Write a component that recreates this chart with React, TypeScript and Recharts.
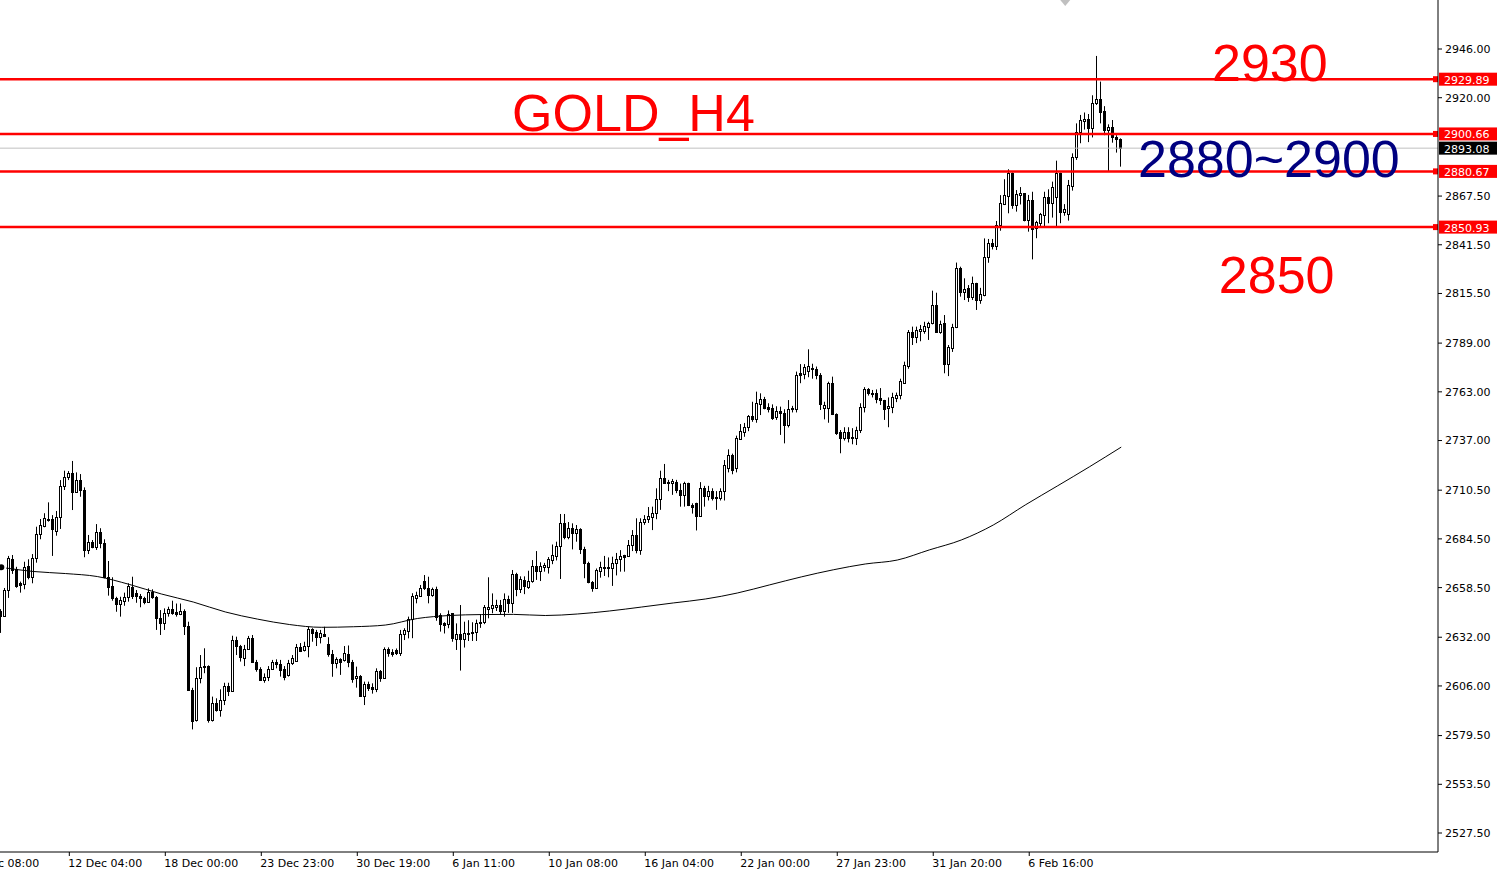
import React from 'react';
import { ComposedChart, Bar, Line, XAxis, YAxis, ReferenceLine, ReferenceDot } from 'recharts';

const opens = [
  2646.0, 2643.5, 2657.2, 2673.8, 2668.4, 2660.8, 2660.3, 2670.0, 2664.0, 2674.1,
  2687.0, 2691.6, 2695.3, 2695.1, 2688.9, 2696.0, 2712.7, 2717.4, 2719.5, 2709.7,
  2715.9, 2710.6, 2678.6, 2683.0, 2680.3, 2688.0, 2682.1, 2664.3, 2659.4, 2652.8,
  2649.6, 2651.5, 2653.6, 2659.0, 2655.5, 2654.2, 2653.1, 2651.0, 2656.0, 2653.3,
  2642.4, 2639.8, 2644.8, 2647.0, 2645.6, 2644.4, 2646.2, 2638.0, 2603.8, 2587.8,
  2610.1, 2616.8, 2616.6, 2587.8, 2597.0, 2593.2, 2598.5, 2606.0, 2603.4, 2630.5,
  2627.3, 2620.8, 2625.7, 2631.4, 2619.0, 2615.0, 2609.2, 2610.6, 2615.0, 2618.6,
  2617.7, 2615.0, 2611.9, 2618.1, 2619.5, 2626.6, 2625.2, 2627.5, 2636.4, 2634.9,
  2631.9, 2633.7, 2628.4, 2623.1, 2618.1, 2620.4, 2619.8, 2622.9, 2619.0, 2610.1,
  2611.3, 2600.8, 2606.9, 2605.5, 2604.2, 2614.0, 2610.4, 2625.7, 2624.3, 2625.2,
  2623.4, 2633.7, 2635.5, 2641.6, 2653.1, 2654.2, 2662.0, 2658.1, 2654.6, 2657.8,
  2643.9, 2639.4, 2639.1, 2644.8, 2630.9, 2633.7, 2630.9, 2633.9, 2634.4, 2635.0,
  2639.4, 2640.0, 2647.1, 2647.4, 2648.3, 2649.2, 2646.2, 2652.4, 2650.2, 2665.8,
  2657.8, 2662.6, 2659.0, 2662.0, 2670.0, 2667.6, 2669.6, 2669.6, 2673.4, 2675.5,
  2680.9, 2692.8, 2685.3, 2690.2, 2687.8, 2689.8, 2679.1, 2671.5, 2661.3, 2658.4,
  2667.6, 2668.8, 2669.7, 2668.8, 2671.5, 2673.6, 2675.9, 2675.4, 2681.0, 2686.6,
  2678.6, 2693.4, 2695.1, 2696.3, 2698.2, 2705.6, 2716.8, 2715.0, 2714.2, 2715.0,
  2710.6, 2707.9, 2714.5, 2702.6, 2703.5, 2696.9, 2711.5, 2707.4, 2710.2, 2706.9,
  2706.2, 2710.2, 2722.2, 2729.3, 2722.2, 2737.8, 2741.7, 2744.1, 2750.1, 2748.3,
  2756.5, 2759.0, 2755.1, 2754.2, 2749.4, 2752.8, 2751.9, 2745.3, 2754.2, 2753.8,
  2772.9, 2772.5, 2774.0, 2775.9, 2775.0, 2772.0, 2754.2, 2754.2, 2767.9, 2751.2,
  2741.7, 2738.5, 2741.4, 2738.7, 2738.5, 2742.6, 2754.7, 2764.3, 2762.6, 2762.2,
  2759.5, 2758.6, 2754.2, 2754.7, 2759.5, 2761.3, 2767.9, 2776.8, 2795.1, 2792.4,
  2795.6, 2795.6, 2797.8, 2799.6, 2809.4, 2795.1, 2799.6, 2777.8, 2786.2, 2797.4,
  2829.3, 2816.4, 2818.3, 2813.5, 2820.9, 2812.0, 2814.7, 2835.1, 2842.3, 2840.8,
  2852.1, 2863.3, 2867.7, 2879.6, 2862.7, 2868.1, 2869.0, 2854.7, 2865.4, 2850.3,
  2853.3, 2857.4, 2867.1, 2863.6, 2867.1, 2879.6, 2859.2, 2857.9, 2873.0, 2888.2,
  2901.9, 2907.6, 2908.5, 2903.6, 2917.0, 2919.2, 2912.9, 2902.8, 2904.2, 2899.2,
  2897.9,
];

const highs = [
  2647.0, 2658.3, 2675.4, 2675.9, 2669.6, 2661.7, 2672.3, 2673.6, 2676.4, 2691.0,
  2695.1, 2698.2, 2704.0, 2697.2, 2699.4, 2715.9, 2720.9, 2720.7, 2726.1, 2720.0,
  2719.1, 2712.0, 2686.6, 2683.9, 2692.4, 2690.2, 2684.3, 2672.7, 2664.0, 2653.6,
  2653.6, 2655.8, 2660.8, 2664.3, 2657.2, 2655.1, 2653.6, 2658.1, 2657.6, 2654.0,
  2646.5, 2647.4, 2648.3, 2651.5, 2650.0, 2650.0, 2646.9, 2640.3, 2605.0, 2616.0,
  2622.5, 2626.1, 2617.0, 2600.3, 2599.4, 2604.2, 2607.7, 2607.7, 2632.8, 2632.3,
  2627.9, 2627.9, 2632.7, 2633.2, 2619.9, 2616.0, 2612.7, 2616.6, 2619.9, 2620.2,
  2619.9, 2616.6, 2619.9, 2622.5, 2628.4, 2628.9, 2629.6, 2637.6, 2636.8, 2635.9,
  2635.9, 2637.6, 2632.0, 2625.2, 2621.3, 2620.8, 2627.3, 2627.6, 2619.9, 2616.3,
  2611.8, 2608.3, 2608.3, 2607.4, 2615.4, 2614.5, 2626.6, 2626.6, 2625.6, 2626.0,
  2635.9, 2636.8, 2643.0, 2655.5, 2656.3, 2659.9, 2665.2, 2664.3, 2658.5, 2659.0,
  2644.8, 2640.0, 2646.3, 2644.8, 2639.4, 2649.2, 2640.3, 2641.1, 2640.0, 2641.4,
  2644.4, 2649.2, 2664.0, 2655.4, 2652.0, 2651.9, 2655.4, 2654.2, 2667.9, 2666.4,
  2664.5, 2664.5, 2667.5, 2673.2, 2678.0, 2672.0, 2671.7, 2674.8, 2681.5, 2683.0,
  2697.8, 2697.8, 2693.5, 2692.8, 2691.9, 2690.2, 2680.3, 2672.3, 2662.0, 2668.7,
  2672.3, 2675.4, 2674.6, 2675.0, 2677.0, 2678.5, 2676.0, 2683.9, 2689.2, 2695.5,
  2695.5, 2697.2, 2701.5, 2701.7, 2711.5, 2720.9, 2724.5, 2716.0, 2716.5, 2716.0,
  2714.0, 2715.0, 2714.5, 2703.5, 2703.8, 2714.8, 2712.8, 2712.8, 2711.5, 2710.0,
  2711.5, 2726.6, 2732.3, 2730.0, 2739.6, 2745.8, 2746.4, 2750.6, 2757.7, 2763.1,
  2762.2, 2760.3, 2756.9, 2756.3, 2755.3, 2755.1, 2753.7, 2758.6, 2755.5, 2773.8,
  2777.8, 2777.8, 2785.7, 2778.0, 2776.5, 2773.0, 2757.7, 2768.4, 2771.1, 2751.5,
  2742.6, 2744.1, 2744.1, 2743.6, 2744.4, 2756.9, 2765.5, 2765.0, 2764.0, 2764.3,
  2765.0, 2758.7, 2760.0, 2762.5, 2762.6, 2770.0, 2779.1, 2796.0, 2797.8, 2797.8,
  2798.7, 2800.4, 2800.4, 2817.0, 2815.9, 2801.0, 2804.0, 2788.0, 2799.3, 2832.0,
  2829.8, 2823.6, 2820.0, 2824.5, 2821.2, 2818.5, 2844.9, 2844.6, 2844.6, 2854.2,
  2868.0, 2876.5, 2881.8, 2880.1, 2870.7, 2872.3, 2869.0, 2868.1, 2869.8, 2854.3,
  2858.5, 2869.8, 2871.1, 2875.2, 2886.4, 2880.0, 2863.2, 2876.1, 2890.3, 2906.3,
  2910.8, 2912.1, 2911.3, 2921.3, 2942.3, 2928.6, 2915.5, 2905.8, 2908.1, 2900.0,
  2898.3,
];

const lows = [
  2634.3, 2643.0, 2653.0, 2665.8, 2658.4, 2655.8, 2657.6, 2662.9, 2660.8, 2671.8,
  2684.3, 2690.7, 2693.7, 2675.4, 2686.2, 2689.8, 2710.6, 2715.9, 2699.9, 2709.2,
  2707.0, 2674.7, 2676.4, 2679.5, 2678.6, 2679.5, 2663.5, 2654.2, 2651.5, 2645.6,
  2643.0, 2648.8, 2651.0, 2652.4, 2650.4, 2648.0, 2649.6, 2650.5, 2652.5, 2635.9,
  2633.2, 2635.9, 2643.0, 2644.0, 2643.0, 2643.8, 2633.2, 2603.8, 2582.8, 2587.0,
  2607.4, 2612.8, 2586.4, 2587.0, 2592.3, 2589.6, 2595.8, 2600.6, 2603.0, 2622.5,
  2619.0, 2616.6, 2625.2, 2618.4, 2613.6, 2608.8, 2607.7, 2608.6, 2614.5, 2615.4,
  2611.0, 2609.0, 2611.0, 2617.2, 2620.0, 2624.1, 2624.4, 2621.3, 2629.6, 2627.3,
  2628.7, 2632.5, 2621.6, 2610.9, 2615.4, 2611.9, 2619.0, 2616.0, 2607.7, 2605.1,
  2600.3, 2595.8, 2603.3, 2601.9, 2602.7, 2608.2, 2609.9, 2621.6, 2621.6, 2622.5,
  2622.0, 2630.5, 2631.4, 2631.5, 2650.1, 2653.6, 2657.2, 2650.1, 2653.6, 2640.8,
  2635.0, 2634.0, 2636.8, 2629.6, 2625.2, 2614.2, 2626.5, 2630.0, 2630.0, 2630.0,
  2637.0, 2639.0, 2642.1, 2644.8, 2646.0, 2644.0, 2643.0, 2645.0, 2645.0, 2653.9,
  2655.6, 2655.0, 2657.8, 2661.1, 2662.6, 2662.0, 2667.0, 2666.0, 2671.0, 2673.0,
  2663.1, 2684.3, 2684.3, 2678.9, 2683.0, 2676.4, 2663.5, 2660.8, 2656.3, 2657.8,
  2663.8, 2664.7, 2664.0, 2659.4, 2665.0, 2667.0, 2667.0, 2675.0, 2678.0, 2676.8,
  2676.0, 2692.0, 2693.0, 2689.2, 2695.0, 2700.0, 2714.2, 2710.0, 2708.0, 2708.9,
  2701.7, 2701.7, 2702.0, 2698.0, 2689.0, 2696.5, 2701.7, 2705.0, 2705.0, 2700.0,
  2705.0, 2705.0, 2720.0, 2719.0, 2720.0, 2737.3, 2739.0, 2742.0, 2747.0, 2746.5,
  2750.6, 2753.7, 2752.0, 2748.0, 2748.0, 2740.0, 2735.5, 2744.0, 2752.0, 2752.0,
  2767.6, 2769.7, 2770.8, 2770.0, 2769.7, 2753.3, 2748.3, 2746.5, 2750.6, 2740.0,
  2730.2, 2737.0, 2736.0, 2735.0, 2734.6, 2741.0, 2752.0, 2761.0, 2760.0, 2756.9,
  2756.0, 2748.0, 2744.1, 2751.6, 2757.5, 2759.0, 2767.2, 2775.3, 2788.0, 2789.0,
  2790.0, 2794.0, 2790.7, 2799.0, 2794.6, 2794.0, 2772.9, 2771.4, 2784.3, 2797.0,
  2813.8, 2812.0, 2811.0, 2812.0, 2806.7, 2810.0, 2814.0, 2831.9, 2839.0, 2838.7,
  2849.0, 2862.7, 2858.3, 2860.7, 2859.2, 2863.0, 2854.0, 2848.5, 2833.7, 2845.0,
  2851.0, 2851.0, 2853.0, 2856.0, 2851.5, 2853.0, 2857.0, 2854.4, 2870.4, 2886.8,
  2895.7, 2903.0, 2896.3, 2898.8, 2916.1, 2906.3, 2900.0, 2880.9, 2896.0, 2890.7,
  2883.2,
];

const closes = [
  2643.5, 2657.2, 2674.3, 2667.9, 2659.5, 2659.9, 2669.7, 2664.0, 2674.1, 2687.1,
  2691.9, 2695.5, 2694.6, 2689.6, 2696.0, 2712.7, 2717.4, 2719.5, 2709.7, 2715.9,
  2710.6, 2678.6, 2682.7, 2680.3, 2688.0, 2682.1, 2664.3, 2659.0, 2652.8, 2649.6,
  2651.9, 2653.6, 2659.4, 2654.2, 2654.2, 2652.8, 2651.0, 2656.0, 2653.6, 2642.1,
  2639.8, 2644.8, 2647.0, 2644.8, 2644.4, 2646.2, 2638.0, 2603.8, 2587.4, 2610.1,
  2616.0, 2616.0, 2587.8, 2596.7, 2593.2, 2598.5, 2606.0, 2603.4, 2630.5, 2627.3,
  2621.3, 2625.7, 2631.4, 2619.0, 2615.0, 2609.2, 2610.9, 2615.0, 2618.6, 2617.7,
  2614.5, 2610.9, 2618.1, 2621.1, 2626.6, 2624.8, 2627.5, 2636.4, 2634.4, 2631.9,
  2634.1, 2632.7, 2622.9, 2618.1, 2620.4, 2618.6, 2623.4, 2619.0, 2609.7, 2611.5,
  2600.6, 2606.9, 2605.1, 2604.2, 2614.0, 2610.4, 2625.7, 2623.4, 2622.9, 2623.4,
  2633.7, 2635.9, 2641.6, 2654.2, 2654.6, 2658.1, 2658.1, 2654.6, 2657.6, 2643.0,
  2638.9, 2638.5, 2644.3, 2631.4, 2633.7, 2630.9, 2634.4, 2634.4, 2635.0, 2639.8,
  2640.3, 2648.0, 2648.3, 2649.2, 2649.2, 2646.2, 2652.4, 2650.2, 2665.8, 2657.8,
  2663.0, 2659.4, 2662.0, 2670.0, 2667.6, 2670.0, 2670.4, 2673.6, 2676.0, 2680.9,
  2692.8, 2685.3, 2690.2, 2687.8, 2689.6, 2679.0, 2671.5, 2661.3, 2658.4, 2667.9,
  2669.7, 2669.7, 2668.8, 2671.5, 2673.8, 2675.4, 2675.0, 2681.2, 2686.6, 2678.6,
  2693.7, 2695.1, 2696.9, 2698.5, 2705.8, 2716.8, 2714.5, 2714.2, 2715.4, 2710.6,
  2707.9, 2714.5, 2702.6, 2701.7, 2696.9, 2711.5, 2707.4, 2710.2, 2706.5, 2706.4,
  2710.2, 2724.0, 2729.3, 2721.3, 2738.2, 2742.3, 2744.1, 2750.1, 2748.3, 2756.9,
  2759.0, 2754.5, 2753.8, 2749.2, 2752.8, 2751.5, 2745.3, 2753.7, 2753.7, 2772.0,
  2772.0, 2776.1, 2776.8, 2775.0, 2772.0, 2756.6, 2756.0, 2767.9, 2751.2, 2741.2,
  2738.5, 2741.4, 2738.2, 2738.2, 2742.6, 2755.1, 2764.3, 2762.2, 2761.8, 2759.0,
  2758.6, 2753.7, 2755.2, 2760.1, 2761.3, 2768.9, 2777.3, 2794.8, 2792.4, 2796.0,
  2796.3, 2798.1, 2799.9, 2809.4, 2795.1, 2799.2, 2777.8, 2786.8, 2797.4, 2829.3,
  2816.4, 2817.9, 2813.5, 2820.9, 2812.0, 2815.2, 2835.1, 2842.3, 2840.9, 2852.1,
  2863.6, 2868.1, 2879.6, 2862.7, 2868.6, 2869.0, 2854.7, 2865.4, 2849.8, 2853.8,
  2857.9, 2867.1, 2863.6, 2872.5, 2879.6, 2859.2, 2860.4, 2873.4, 2888.5, 2901.9,
  2908.1, 2908.5, 2903.6, 2917.3, 2919.2, 2912.5, 2902.8, 2904.2, 2899.2, 2897.8,
  2893.0,
];

// moving average read at every 8th bar
const maIndex = [0, 8, 16, 24, 32, 40, 48, 56, 64, 72, 80, 88, 96, 104, 112, 120, 128, 136, 144,
  152, 160, 168, 176, 184, 192, 200, 208, 216, 224, 232, 240, 248, 256, 264, 272, 280];
const maValues = [2669.3, 2667.1, 2666.0, 2664.4, 2660.2, 2655.1, 2650.8, 2645.5, 2641.7, 2638.8,
  2637.3, 2637.6, 2638.5, 2642.0, 2643.6, 2644.1, 2644.2, 2643.6, 2644.4, 2646.0, 2648.1,
  2650.3, 2652.4, 2655.6, 2659.9, 2664.2, 2668.0, 2671.1, 2673.2, 2678.6, 2683.9, 2691.9,
  2702.6, 2712.7, 2722.9, 2733.5];

const xTickIndex = [-7, 17, 41, 65, 89, 113, 137, 161, 185, 209, 233, 257];
const xTickLabels = ['6 Dec 08:00', '12 Dec 04:00', '18 Dec 00:00', '23 Dec 23:00', '30 Dec 19:00',
  '6 Jan 11:00', '10 Jan 08:00', '16 Jan 04:00', '22 Jan 00:00', '27 Jan 23:00', '31 Jan 20:00', '6 Feb 16:00'];

const yTicks = [2946.0, 2920.0, 2867.5, 2841.5, 2815.5, 2789.0, 2763.0, 2737.0, 2710.5, 2684.5,
  2658.5, 2632.0, 2606.0, 2579.5, 2553.5, 2527.5];

const levelValues = [2929.89, 2900.66, 2880.67, 2850.93];
const lastPrice = 2893.08;

const annotations = [
  { text: 'GOLD_H4', i: 127.7, price: 2902.2, color: '#FF0000' },
  { text: '2930', i: 302.7, price: 2928.9, color: '#FF0000' },
  { text: '2880~2900', i: 284.2, price: 2877.7, color: '#000080' },
  { text: '2850', i: 304.4, price: 2815.8, color: '#FF0000' },
];

const data = opens.map((o, i) => ({
  i,
  o,
  h: highs[i],
  l: lows[i],
  c: closes[i],
  range: [lows[i], highs[i]],
  ma: null as number | null,
}));
maIndex.forEach((idx, k) => {
  data[idx].ma = maValues[k];
});

const AXIS_FONT = 'DejaVu Sans, Verdana, sans-serif';
const BIG_FONT = 'Liberation Sans, Arial, sans-serif';

const Candle = (props: any) => {
  const { x, y, width, height, payload } = props;
  if (x == null || y == null || !payload) return null;
  const { o, h, l, c } = payload;
  const yTop = Math.min(y, y + height);
  const yBot = Math.max(y, y + height);
  const span = h - l || 1;
  const py = (p: number) => yTop + ((h - p) / span) * (yBot - yTop);
  const cx = Math.floor(x + width / 2) + 0.5;
  const bull = c >= o;
  const bt = Math.round(py(Math.max(o, c))) + 0.5;
  const bb = Math.round(py(Math.min(o, c))) + 0.5;
  return (
    <g>
      <line x1={cx} x2={cx} y1={py(h)} y2={py(l)} stroke="#000" strokeWidth={1} />
      {bb - bt < 1 ? (
        <line x1={cx - 1.5} x2={cx + 1.5} y1={bt} y2={bt} stroke="#000" strokeWidth={1} />
      ) : (
        <rect x={cx - 1} y={bt} width={2} height={bb - bt} fill={bull ? '#fff' : '#000'} stroke="#000" strokeWidth={1} />
      )}
    </g>
  );
};

const XTick = (props: any) => {
  const { x, y, payload } = props;
  const k = xTickIndex.indexOf(payload.value);
  const label = k >= 0 ? xTickLabels[k] : '';
  return (
    <text x={x - 1} y={y + 9} textAnchor="start" fontSize={11} fontFamily={AXIS_FONT} fill="#000">
      {label}
    </text>
  );
};

const LevelLabel = (props: any) => {
  const { viewBox, value, boxFill, marker } = props;
  if (!viewBox) return null;
  const right = viewBox.x + viewBox.width;
  const cy = viewBox.y;
  return (
    <g>
      {marker && <rect x={right - 5} y={cy - 3} width={5} height={6} fill="#FF0000" />}
      <rect x={right + 1} y={cy - 6.5} width={59} height={13} fill={boxFill} />
      <text x={right + 6} y={cy + 4.5} fontSize={11} fontFamily={AXIS_FONT} fill="#fff">
        {value}
      </text>
    </g>
  );
};

const BigText = (props: any) => {
  const { viewBox, text, color } = props;
  if (!viewBox) return null;
  return (
    <text x={viewBox.x + viewBox.width / 2} y={viewBox.y + viewBox.height / 2} fontSize={52}
      fontFamily={BIG_FONT} fill={color} textAnchor="start">
      {text}
    </text>
  );
};

const ShiftMarker = (props: any) => {
  const { cx } = props;
  if (cx == null) return null;
  return <path d={`M${cx - 5},0 L${cx + 5},0 L${cx},6 Z`} fill="#c0c0c0" />;
};

export default function App() {
  return (
    <div style={{ position: 'absolute', left: 0, top: 0, width: 1497, height: 876, background: '#fff' }}>
      <ComposedChart width={1497} height={876} data={data} margin={{ top: 0, right: 0, bottom: 0, left: 0 }}>
        <XAxis
          type="number"
          dataKey="i"
          domain={[-0.33, 359.2]}
          allowDataOverflow
          ticks={xTickIndex}
          interval={0}
          height={24}
          tickSize={4}
          tick={<XTick />}
          axisLine={{ stroke: '#000' }}
          tickLine={{ stroke: '#000' }}
        />
        <YAxis
          orientation="right"
          domain={[2517.36, 2972.16]}
          allowDataOverflow
          ticks={yTicks}
          interval={0}
          width={59}
          tickSize={4}
          tickMargin={3}
          tick={{ fontSize: 11, fill: '#000', fontFamily: AXIS_FONT, textAnchor: 'start' }}
          tickFormatter={(v: number) => v.toFixed(2)}
          axisLine={{ stroke: '#000' }}
          tickLine={{ stroke: '#000' }}
        />
        <ReferenceLine y={lastPrice} stroke="#c0c0c0" strokeWidth={1}
          label={<LevelLabel value={lastPrice.toFixed(2)} boxFill="#000" marker={false} />} />
        {levelValues.map((v) => (
          <ReferenceLine key={v} y={v} stroke="#FF0000" strokeWidth={2.5}
            label={<LevelLabel value={v.toFixed(2)} boxFill="#FF0000" marker />} />
        ))}
        <Line dataKey="ma" type="monotone" stroke="#000" strokeWidth={1} dot={false} connectNulls isAnimationActive={false} />
        <Bar dataKey="range" shape={<Candle />} isAnimationActive={false} barSize={3} />
        {annotations.map((a) => (
          <ReferenceDot key={a.text} x={a.i} y={a.price} r={1} fill="none" stroke="none"
            label={<BigText text={a.text} color={a.color} />} />
        ))}
        <ReferenceDot x={266} y={2972} r={1} shape={<ShiftMarker />} />
      </ComposedChart>
    </div>
  );
}
